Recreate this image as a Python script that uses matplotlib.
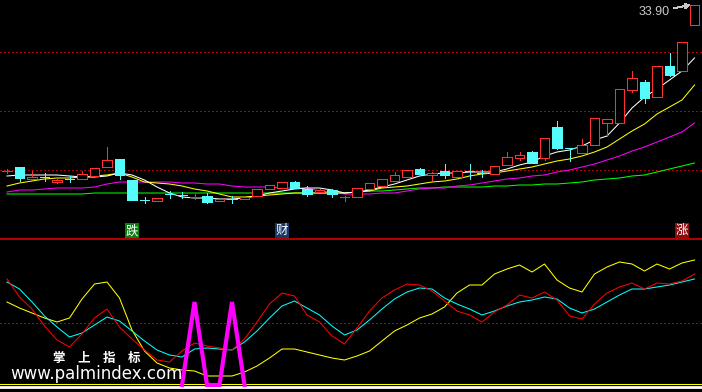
import numpy as np
import matplotlib
matplotlib.use('Agg')
import matplotlib.pyplot as plt
from matplotlib.transforms import blended_transform_factory

# ---------------- price data (daily candles) ----------------
open_ = [27.26, 27.42, 26.94, 27.04, 26.82, 26.96, 26.94, 27.06, 27.42, 27.74,
         26.90, 26.12, 26.06, 26.36, 26.32, 26.22, 26.26, 26.06, 26.16, 26.14,
         26.26, 26.54, 26.58, 26.82, 26.54, 26.42, 26.50, 26.22, 26.22, 26.54,
         26.66, 26.86, 27.02, 27.34, 27.10, 27.26, 27.02, 27.28, 27.20, 27.14,
         27.50, 27.78, 28.02, 27.78, 29.02, 28.20, 27.98, 28.30, 29.18, 29.18,
         30.50, 30.82, 30.22, 31.46, 31.26, 33.10]
close = [27.26, 26.98, 27.02, 27.02, 26.90, 26.94, 27.14, 27.38, 27.70, 27.10,
         26.10, 26.10, 26.18, 26.34, 26.30, 26.22, 26.02, 26.14, 26.14, 26.20,
         26.54, 26.70, 26.82, 26.58, 26.34, 26.50, 26.34, 26.22, 26.58, 26.78,
         26.94, 27.10, 27.30, 27.14, 27.18, 27.10, 27.26, 27.26, 27.18, 27.46,
         27.82, 27.90, 27.58, 28.58, 28.18, 28.18, 28.30, 29.38, 29.34, 30.54,
         30.98, 30.18, 31.46, 31.10, 32.42, 33.90]
high = [27.34, 27.42, 27.26, 27.18, 27.02, 27.06, 27.26, 27.38, 28.22, 27.74,
        26.90, 26.22, 26.18, 26.46, 26.42, 26.34, 26.38, 26.14, 26.26, 26.22,
        26.54, 26.70, 26.82, 26.86, 26.66, 26.54, 26.54, 26.26, 26.58, 26.78,
        26.94, 27.22, 27.30, 27.38, 27.22, 27.54, 27.26, 27.54, 27.30, 27.46,
        28.02, 28.02, 28.06, 28.58, 29.26, 28.20, 28.54, 29.38, 29.34, 30.54,
        31.26, 30.90, 31.46, 31.98, 32.42, 33.90]
low = [27.18, 26.86, 26.94, 26.86, 26.78, 26.82, 26.94, 27.06, 27.42, 26.94,
       26.10, 25.98, 26.06, 26.18, 26.18, 26.14, 25.98, 26.06, 25.98, 26.14,
       26.26, 26.54, 26.58, 26.58, 26.26, 26.42, 26.22, 26.06, 26.22, 26.54,
       26.66, 26.86, 27.02, 27.14, 26.90, 26.98, 27.02, 26.94, 27.02, 27.14,
       27.50, 27.70, 27.58, 27.70, 28.14, 27.66, 27.98, 28.30, 28.66, 29.18,
       30.42, 29.98, 30.22, 31.06, 31.26, 33.10]

# moving averages (white / yellow / magenta / green)
ma_white = [27.06, 27.10, 27.10, 27.10, 27.10, 27.06, 27.02, 27.02, 27.06, 27.18,
            27.10, 26.90, 26.62, 26.38, 26.22, 26.18, 26.18, 26.14, 26.14, 26.18,
            26.26, 26.38, 26.46, 26.54, 26.58, 26.58, 26.50, 26.38, 26.42, 26.50,
            26.62, 26.74, 26.90, 27.06, 27.14, 27.18, 27.18, 27.22, 27.22, 27.22,
            27.34, 27.50, 27.62, 27.86, 28.02, 28.10, 28.26, 28.50, 28.66, 29.18,
            29.78, 30.22, 30.54, 30.90, 31.26, 31.78]
ma_yellow = [26.66, 26.78, 26.86, 26.94, 26.98, 26.98, 27.02, 27.06, 27.10, 27.18,
             27.02, 26.82, 26.78, 26.74, 26.66, 26.54, 26.46, 26.34, 26.22, 26.22,
             26.26, 26.30, 26.34, 26.38, 26.38, 26.38, 26.38, 26.38, 26.42, 26.46,
             26.58, 26.62, 26.66, 26.74, 26.82, 26.86, 26.94, 27.06, 27.14, 27.18,
             27.26, 27.34, 27.42, 27.54, 27.66, 27.74, 27.86, 28.02, 28.22, 28.54,
             28.86, 29.14, 29.54, 29.82, 30.10, 30.70]
ma_magenta = [26.42, 26.50, 26.50, 26.54, 26.58, 26.58, 26.58, 26.62, 26.74, 26.82,
              26.82, 26.82, 26.82, 26.82, 26.78, 26.78, 26.74, 26.74, 26.66, 26.62,
              26.62, 26.62, 26.58, 26.58, 26.58, 26.46, 26.42, 26.34, 26.34, 26.34,
              26.38, 26.38, 26.46, 26.54, 26.58, 26.58, 26.66, 26.70, 26.78, 26.86,
              26.94, 26.98, 27.06, 27.10, 27.22, 27.30, 27.42, 27.54, 27.70, 27.86,
              28.06, 28.22, 28.42, 28.62, 28.82, 29.18]
ma_green = [26.34, 26.34, 26.34, 26.34, 26.34, 26.34, 26.34, 26.38, 26.38, 26.38,
            26.38, 26.38, 26.38, 26.38, 26.38, 26.38, 26.38, 26.38, 26.38, 26.38,
            26.38, 26.38, 26.38, 26.38, 26.38, 26.38, 26.38, 26.38, 26.42, 26.46,
            26.46, 26.50, 26.54, 26.58, 26.58, 26.62, 26.62, 26.62, 26.62, 26.66,
            26.66, 26.70, 26.70, 26.74, 26.74, 26.78, 26.82, 26.90, 26.94, 26.98,
            27.06, 27.10, 27.22, 27.34, 27.46, 27.58]

grid_prices = [32.02, 29.66, 27.30]
top_price_label = "33.90"

signal_idx = [10, 22, 54]
signal_text = ["跌", "财", "涨"]
signal_bg = ["#0b7d12", "#17386b", "#8a0c0c"]

# ---------------- indicator panel ----------------
ind_red = [84.8, 70.4, 60.8, 47.2, 36.0, 30.4, 40.8, 53.6, 60.8, 46.4,
           36.8, 28.0, 20.0, 18.4, 27.2, 33.6, 31.2, 29.6, 28.0, 36.8,
           50.4, 64.8, 73.6, 71.2, 56.0, 50.4, 39.2, 32.8, 45.6, 59.2,
           69.6, 76.0, 80.8, 80.0, 75.2, 67.2, 59.2, 56.0, 50.4, 58.4,
           64.0, 72.0, 69.6, 74.4, 68.0, 55.2, 52.8, 64.8, 73.6, 78.4,
           81.6, 76.8, 81.6, 80.8, 83.2, 88.8]
ind_cyan = [82.4, 76.8, 66.4, 55.2, 46.4, 38.4, 41.6, 48.0, 54.4, 51.2,
            43.2, 35.2, 28.0, 24.0, 22.4, 28.8, 29.6, 28.8, 28.0, 34.4,
            43.2, 53.6, 63.2, 67.2, 61.6, 56.0, 47.2, 40.0, 44.0, 52.0,
            60.8, 68.8, 74.4, 77.6, 76.8, 69.6, 64.8, 60.8, 56.0, 59.2,
            63.2, 66.4, 68.0, 70.4, 68.8, 61.6, 57.6, 60.8, 66.4, 72.0,
            76.8, 76.8, 78.4, 80.0, 82.4, 84.8]
ind_yellow = [66.4, 61.6, 57.6, 53.6, 50.4, 53.6, 68.8, 80.8, 82.4, 69.6,
              44.0, 27.2, 17.6, 13.6, 12.0, 11.2, 7.2, 7.2, 7.2, 10.4,
              15.2, 21.6, 28.8, 28.8, 26.4, 24.0, 21.6, 20.0, 23.2, 27.2,
              35.2, 43.2, 48.0, 53.6, 56.8, 62.4, 73.6, 80.0, 80.0, 88.8,
              92.8, 96.0, 90.4, 96.8, 84.0, 77.6, 74.4, 88.8, 94.4, 98.4,
              96.8, 91.2, 96.8, 92.8, 97.6, 100.0]
ind_magenta = [np.nan] * 14 + [0.0, 66.4, 0.0, 0.0, 66.4, 0.0] + [np.nan] * 36
ind_mid = 50
ind_floor_yellow = 0.8
ind_floor_white = -1.6

watermark_cn = "掌　上　指　标"
watermark_url = "www.palmindex.com"

# ---------------- colours ----------------
RED = "#ff3030"
CYAN = "#54fcfc"
GRID_RED = "#b00000"
LW = 0.75     # antialiased lines
CLW = 0.7     # crisp candle strokes

plt.rcParams["patch.antialiased"] = False

x = np.arange(len(close))

fig = plt.figure(figsize=(7.02, 3.92), dpi=100, facecolor="black")
ax = fig.add_axes([0, 153 / 392, 1, 239 / 392], facecolor="black")
ax2 = fig.add_axes([0, 0, 1, 152 / 392], facecolor="black")

xlim = (-0.56, 55.6)
for a in (ax, ax2):
    a.set_xlim(*xlim)
    a.set_xticks([])
    a.set_yticks([])
    for s in a.spines.values():
        s.set_visible(False)

ax.set_ylim(24.54, 34.10)
ax.spines["bottom"].set_visible(True)
ax.spines["bottom"].set_color(GRID_RED)
ax.spines["bottom"].set_linewidth(0.9)

for gp in grid_prices:
    ax.axhline(gp, color=GRID_RED, lw=CLW, linestyle=(0, (1.4, 2.7)), zorder=1,
               antialiased=False)

# moving averages
ax.plot(x, ma_green, color="#00ff00", lw=LW, zorder=2)
ax.plot(x, ma_magenta, color="#ff00ff", lw=LW, zorder=2)
ax.plot(x, ma_yellow, color="#ffff00", lw=LW, zorder=2)
ax.plot(x, ma_white, color="#ffffff", lw=LW, zorder=2)

# candles
o = np.array(open_)
c = np.array(close)
h = np.array(high)
l = np.array(low)
up = c >= o
body_lo = np.minimum(o, c)
body_hi = np.maximum(o, c)
width = 0.74
thin = (body_hi - body_lo) < 0.03

cols = np.where(up, RED, CYAN)
ax.vlines(x, body_hi, h, colors=cols, lw=CLW, zorder=3, antialiased=False)
ax.vlines(x, l, body_lo, colors=cols, lw=CLW, zorder=3, antialiased=False)

m_up = up & ~thin
ax.bar(x[m_up], (body_hi - body_lo)[m_up], bottom=body_lo[m_up], width=width,
       facecolor="black", edgecolor=RED, lw=CLW, zorder=4)
m_dn = (~up) & ~thin
ax.bar(x[m_dn], (body_hi - body_lo)[m_dn], bottom=body_lo[m_dn], width=width,
       facecolor=CYAN, edgecolor=CYAN, lw=0.5, zorder=4)
ax.hlines(c[thin], x[thin] - width / 2, x[thin] + width / 2, colors=cols[thin],
          lw=CLW, zorder=4, antialiased=False)

# top price label with arrow
ax.annotate(top_price_label, xy=(54.64, high[-1]), xytext=(51.8, 33.62),
            color="#c8c8c8", fontsize=9, family="Liberation Sans",
            ha="center", va="center",
            arrowprops=dict(arrowstyle="->", color="#c8c8c8", lw=LW,
                            shrinkA=1, shrinkB=0, mutation_scale=7))

# signal labels
tr = blended_transform_factory(ax.transData, ax.transAxes)
for idx, txt, bg in zip(signal_idx, signal_text, signal_bg):
    ax.text(idx, 0.034, txt, transform=tr, ha="center", va="center",
            color="white", fontsize=9, family=["Noto Sans CJK SC", "DejaVu Sans"],
            bbox=dict(boxstyle="square,pad=0.08", facecolor=bg, edgecolor="none"),
            zorder=6)

# ---------------- lower indicator ----------------
ax2.set_ylim(-5.6, 116)
ax2.axhline(ind_mid, color=GRID_RED, lw=CLW, linestyle=(0, (1.4, 2.7)), zorder=1,
            antialiased=False)
ax2.axhline(ind_floor_yellow, color="#ffff00", lw=LW, zorder=2)
ax2.axhline(ind_floor_white, color="#ffffff", lw=2.0, zorder=2)
ax2.plot(x, ind_yellow, color="#ffff00", lw=LW, zorder=3)
ax2.plot(x, ind_cyan, color="#00ffff", lw=LW, zorder=3)
ax2.plot(x, ind_red, color="#ff0000", lw=LW, zorder=3)
ax2.plot(x, ind_magenta, color="#ff00ff", lw=3.0, zorder=4, solid_joinstyle="miter")

ax2.text(97 / 702, 1 - (358 - 240) / 152, watermark_cn, transform=ax2.transAxes,
         color="white", fontsize=9, fontweight="bold",
         family=["Noto Sans CJK SC", "DejaVu Sans"], ha="center", va="center", zorder=5)
ax2.text(10 / 702, 1 - (374 - 240) / 152, watermark_url, transform=ax2.transAxes,
         color="white", fontsize=12, family="DejaVu Sans", ha="left", va="center",
         zorder=5)

fig.savefig("out.png", dpi=100, facecolor="black")
